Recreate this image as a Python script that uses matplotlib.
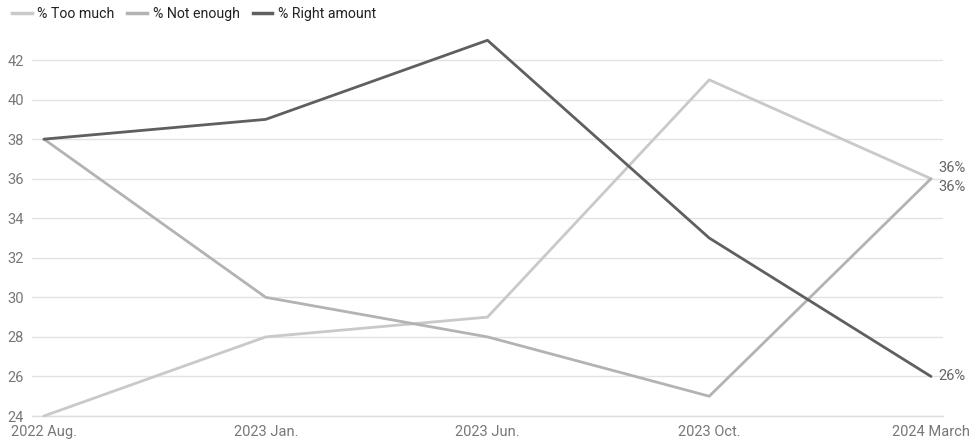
import matplotlib.pyplot as plt
from matplotlib.lines import Line2D

plt.rcParams['font.family'] = ['Roboto', 'DejaVu Sans']

periods = ["2022 Aug.", "2023 Jan.", "2023 Jun.", "2023 Oct.", "2024 March"]
too_much = [24, 28, 29, 41, 36]
not_enough = [38, 30, 28, 25, 36]
right_amount = [38, 39, 43, 33, 26]
yticks = [24, 26, 28, 30, 32, 34, 36, 38, 40, 42]

series = [
    ("% Too much", too_much, "#c9c9c9"),
    ("% Not enough", not_enough, "#b3b3b3"),
    ("% Right amount", right_amount, "#5f5f5f"),
]

fig = plt.figure(figsize=(9.78, 4.44), dpi=100)
ax = fig.add_axes([32 / 978, 28 / 444, (943 - 32) / 978, (416 - 20.5) / 444])

x = list(range(len(periods)))
for name, vals, col in series:
    ax.plot(x, vals, color=col, lw=2, label=name, solid_capstyle='round', zorder=3, clip_on=False)

ax.set_xlim(-0.054, len(periods) - 1 + 0.054)
ax.set_ylim(24, 44)
ax.set_yticks(yticks)
ax.set_xticks(x)
ax.set_xticklabels(periods)
ax.grid(axis='y', color='#e2e2e2', lw=1)
ax.axhline(yticks[0], color='#dcdcdc', lw=1, zorder=1, clip_on=False)
ax.set_axisbelow(True)
for s in ax.spines.values():
    s.set_visible(False)
ax.tick_params(axis='both', length=0, labelsize=10.5, labelcolor='#777777')
ax.tick_params(axis='y', pad=6)
ax.tick_params(axis='x', pad=6.5)

# end labels
ax.annotate("36%", (4, 36), xytext=(5, 8), textcoords='offset points',
            fontsize=10.5, color='#666666', va='center', ha='left', annotation_clip=False)
ax.annotate("36%", (4, 36), xytext=(5, -6), textcoords='offset points',
            fontsize=10.5, color='#666666', va='center', ha='left', annotation_clip=False)
ax.annotate("26%", (4, 26), xytext=(5, 0), textcoords='offset points',
            fontsize=10.5, color='#666666', va='center', ha='left', annotation_clip=False)

handles = [Line2D([0], [0], color=c, lw=2.5) for _, _, c in series]
fig.legend(handles, [n for n, _, _ in series], loc='upper left', bbox_to_anchor=(-0.001, 1.012),
           ncol=3, frameon=False, fontsize=10.2, handlelength=1.4, handletextpad=0.4,
           columnspacing=0.9, labelcolor='#222222')

fig.savefig("out.png", dpi=100)
